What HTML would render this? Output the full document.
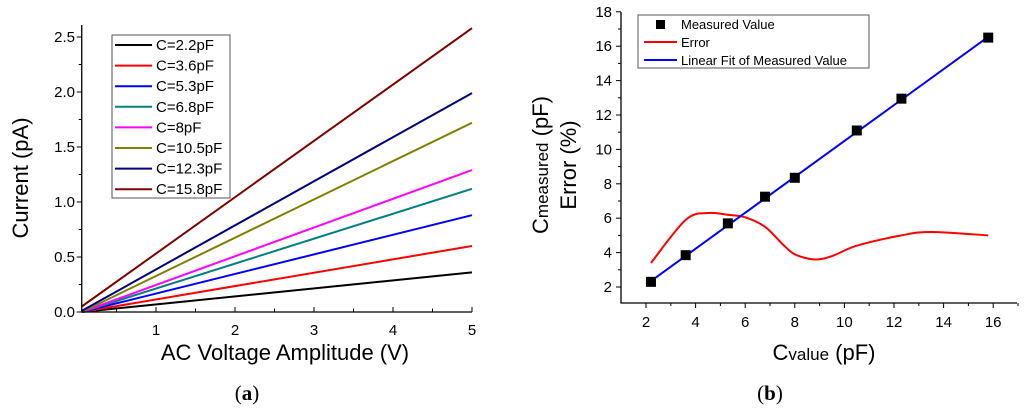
<!DOCTYPE html>
<html><head><meta charset="utf-8"><style>
body{margin:0;background:#fff;}
svg{display:block;font-family:"Liberation Sans",sans-serif;}
</style></head><body>
<svg id="c" width="1024" height="409" viewBox="0 0 1024 409"></svg>
<script>
// ---- Chart (a) data ----
const capLabels = ["C=2.2pF","C=3.6pF","C=5.3pF","C=6.8pF","C=8pF","C=10.5pF","C=12.3pF","C=15.8pF"];
const capColors = ["#000000","#ff0000","#0000ff","#008080","#ff00ff","#808000","#000080","#800000"];
const currentAt5V = [0.36,0.60,0.88,1.12,1.29,1.72,1.99,2.58];
const currentAtStart = [0,0,0,0,0,0,0.01,0.05];
const aXTicks = [1,2,3,4,5];
const aYTicks = [0.0,0.5,1.0,1.5,2.0,2.5];
// ---- Chart (b) data ----
const cValue = [2.2,3.6,5.3,6.8,8,10.5,12.3,15.8];
const cMeasured = [2.3,3.85,5.7,7.25,8.35,11.1,12.95,16.5];
const errX = [2.2,3.6,4.5,5.3,6.0,6.8,7.5,8.0,8.8,9.5,10.5,12.3,13.5,15.8];
const errY = [3.4,5.9,6.3,6.2,6.05,5.5,4.5,3.9,3.6,3.8,4.4,5.0,5.2,5.0];
const fitSlope = 1.044, fitIntercept = 0.05;
const bXTicks = [2,4,6,8,10,12,14,16];
const bYTicks = [2,4,6,8,10,12,14,16,18];

const NS="http://www.w3.org/2000/svg";
const svg=document.getElementById('c');
function mk(tag,attrs,parent,txt){const e=document.createElementNS(NS,tag);for(const k in attrs)e.setAttribute(k,attrs[k]);if(txt!==undefined)e.textContent=txt;(parent||svg).appendChild(e);return e;}

// ===== Chart (a) =====
const ax=v=>77+v*79, ay=v=>312-v*110;
const gA=mk('g',{});  
const x0=0.06, x1=5;
capLabels.forEach((l,i)=>{
  const ln=mk('line',{x1:ax(x0),y1:ay(currentAtStart[i]),x2:ax(x1),y2:ay(currentAt5V[i]),stroke:capColors[i],'stroke-width':2},gA);
  
  
});
// axes
let axA=mk('path',{d:`M${ax(x0)},25 V312 H${ax(5)}`,stroke:'#000','stroke-width':1.3,fill:'none'},gA);
 
for(let v=0.5;v<=5.01;v+=0.5){const big=Math.abs(v-Math.round(v))<0.01;mk('line',{x1:ax(v),x2:ax(v),y1:312,y2:312-(big?5:3.5),stroke:'#000','stroke-width':1},gA);}
for(let v=0;v<=2.51;v+=0.25){const big=Math.abs(v*2-Math.round(v*2))<0.01;mk('line',{x1:ax(x0),x2:ax(x0)-(big?5:3),y1:ay(v),y2:ay(v),stroke:'#000','stroke-width':1},gA);}
aXTicks.forEach(v=>{const t=mk('text',{x:ax(v),y:335,'text-anchor':'middle','font-size':15},gA,String(v));});
aYTicks.forEach(v=>{const t=mk('text',{x:75,y:ay(v)+5,'text-anchor':'end','font-size':15},gA,v.toFixed(1));});
let t=mk('text',{x:285,y:360,'text-anchor':'middle','font-size':22},gA,'AC Voltage Amplitude (V)');
t=mk('text',{x:0,y:0,'text-anchor':'middle','font-size':22,transform:'translate(28,178) rotate(-90)'},gA,'Current (pA)');
// legend a
const lgA=mk('g',{},gA);  
mk('rect',{x:112,y:35,width:118,height:163,fill:'#fff',stroke:'#555','stroke-width':1},lgA);
capLabels.forEach((l,i)=>{const y=45+i*20.6;
  const g=mk('g',{},lgA);  
  mk('line',{x1:115,x2:152,y1:y,y2:y,stroke:capColors[i],'stroke-width':2},g);
  mk('text',{x:156,y:y+5,'font-size':15},g,l);});
t=mk('text',{x:247,y:400,'text-anchor':'middle','font-size':21,'font-family':'Liberation Serif, serif'},gA);
t.innerHTML='(<tspan font-weight="bold">a</tspan>)';

// ===== Chart (b) =====
const bx=v=>646+(v-2)*24.8, by=v=>287-(v-2)*17.2;
const gB=mk('g',{});  
let axB=mk('path',{d:`M621,12 V303 H1017`,stroke:'#000','stroke-width':1.3,fill:'none'},gB);
 
for(let v=2;v<=17;v++){mk('line',{x1:bx(v),x2:bx(v),y1:303,y2:303+(v%2==0?5:3),stroke:'#000','stroke-width':1},gB);}
for(let v=2;v<=18;v++){mk('line',{x1:621,x2:621-(v%2==0?5:3),y1:by(v),y2:by(v),stroke:'#000','stroke-width':1},gB);}
bXTicks.forEach(v=>{const t=mk('text',{x:bx(v),y:327,'text-anchor':'middle','font-size':15},gB,String(v));});
bYTicks.forEach(v=>{const t=mk('text',{x:612,y:by(v)+5,'text-anchor':'end','font-size':15},gB,String(v));});
// error curve (Catmull-Rom)
const P=errX.map((x,i)=>[bx(x),by(errY[i])]);
let d=`M${P[0][0]},${P[0][1]}`;
for(let i=0;i<P.length-1;i++){const p0=P[Math.max(i-1,0)],p1=P[i],p2=P[i+1],p3=P[Math.min(i+2,P.length-1)];
 d+=` C${p1[0]+(p2[0]-p0[0])/6},${p1[1]+(p2[1]-p0[1])/6} ${p2[0]-(p3[0]-p1[0])/6},${p2[1]-(p3[1]-p1[1])/6} ${p2[0]},${p2[1]}`;}
let e=mk('path',{d,stroke:'#ff0000','stroke-width':2,fill:'none'},gB);
const fx0=cValue[0],fx1=cValue[cValue.length-1];
e=mk('line',{x1:bx(fx0),y1:by(fitSlope*fx0+fitIntercept),x2:bx(fx1),y2:by(fitSlope*fx1+fitIntercept),stroke:'#0000ff','stroke-width':2},gB);

cValue.forEach((c,i)=>{const r=mk('rect',{x:bx(c)-5,y:by(cMeasured[i])-5,width:10,height:10,fill:'#000'},gB);
 });
t=mk('text',{x:824,y:360,'text-anchor':'middle','font-size':22},gB);
t.innerHTML='C<tspan font-size="17">value</tspan> (pF)';
t=mk('text',{x:0,y:0,'text-anchor':'middle','font-size':22,transform:'translate(548,165) rotate(-90)'},gB);
t.innerHTML='C<tspan font-size="17">measured</tspan> (pF)';
t=mk('text',{x:0,y:0,'text-anchor':'middle','font-size':22,transform:'translate(576,165) rotate(-90)'},gB,'Error (%)');
const lgB=mk('g',{},gB);  
mk('rect',{x:638,y:15,width:231,height:53,fill:'#fff',stroke:'#555','stroke-width':1},lgB);
let g=mk('g',{},lgB);
mk('rect',{x:656,y:20,width:9,height:9,fill:'#000'},g);mk('text',{x:681,y:29,'font-size':13},g,'Measured Value');
g=mk('g',{},lgB);
mk('line',{x1:644,x2:677,y1:42,y2:42,stroke:'#ff0000','stroke-width':2},g);mk('text',{x:681,y:47,'font-size':13},g,'Error');
g=mk('g',{},lgB);
mk('line',{x1:644,x2:677,y1:60,y2:60,stroke:'#0000ff','stroke-width':2},g);mk('text',{x:681,y:65,'font-size':13},g,'Linear Fit of Measured Value');
t=mk('text',{x:770,y:400,'text-anchor':'middle','font-size':21,'font-family':'Liberation Serif, serif'},gB);
t.innerHTML='(<tspan font-weight="bold">b</tspan>)';
</script>
</body></html>
